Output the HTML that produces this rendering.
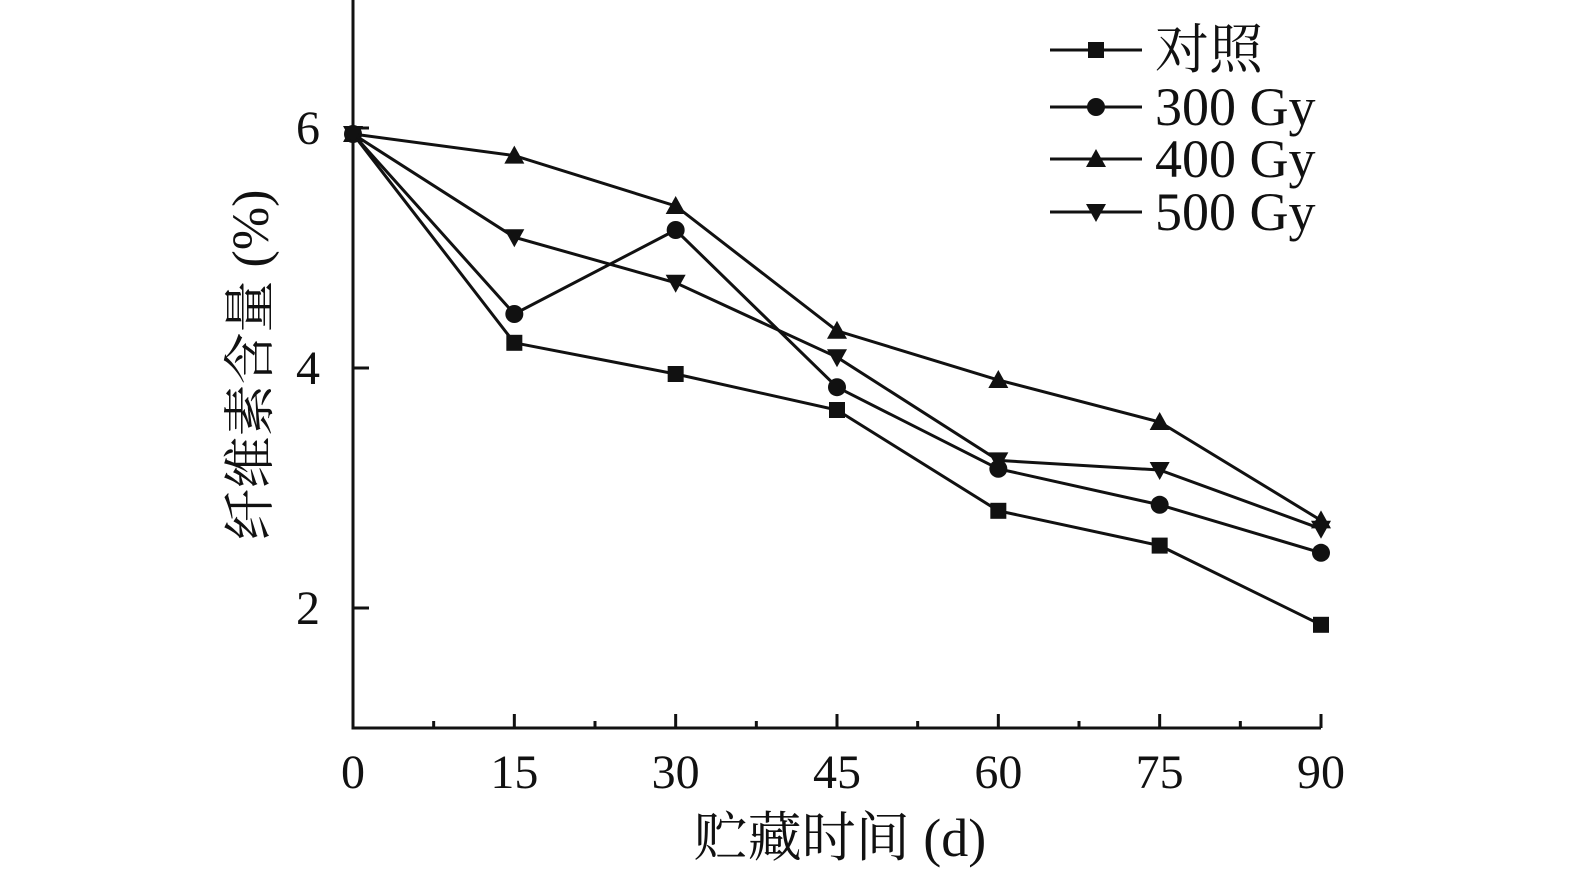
<!DOCTYPE html>
<html><head><meta charset="utf-8"><style>
body{margin:0;background:#fff;}
svg text{font-family:"Liberation Serif","Noto Serif CJK SC",serif;fill:#111;}
</style></head><body>
<svg id="chart" width="1575" height="874"></svg>
<script>
const categories=[0,15,30,45,60,75,90];
const xTicks=["0","15","30","45","60","75","90"];
const yTicks=[2,4,6];
const seriesNames=["对照","300 Gy","400 Gy","500 Gy"];
const control=[5.95,4.21,3.95,3.65,2.81,2.52,1.86];
const gy300=[5.95,4.45,5.15,3.84,3.16,2.86,2.46];
const gy400=[5.95,5.77,5.35,4.31,3.90,3.55,2.73];
const gy500=[5.95,5.09,4.71,4.09,3.23,3.15,2.66];
const series=[control,gy300,gy400,gy500];
const markers=["square","circle","up","down"];
const NS="http://www.w3.org/2000/svg";
const svg=document.getElementById('chart');
const X0=353,X1=1321,YB=728;
const xs=v=>X0+(v/90)*(X1-X0);
const ys=v=>128+(6-v)*120;
function el(t,a,p){const e=document.createElementNS(NS,t);for(const k in a)e.setAttribute(k,a[k]);(p||svg).appendChild(e);return e;}
let ax=el('path',{d:`M${X0} 0 V${YB} H${X1}`,stroke:'#111','stroke-width':3,fill:'none'});


categories.forEach((c,i)=>{
  const t=el('line',{x1:xs(c),x2:xs(c),y1:YB,y2:YB-14,stroke:'#111','stroke-width':3});
  
  
  if(i<categories.length-1){const m=el('line',{x1:xs(c+7.5),x2:xs(c+7.5),y1:YB,y2:YB-7,stroke:'#111','stroke-width':3});
  
  }
  const l=el('text',{x:xs(c),y:788,'font-size':48,'text-anchor':'middle'});l.textContent=xTicks[i];
  
  
});
yTicks.forEach(v=>{
  const t=el('line',{x1:X0,x2:X0+16,y1:ys(v),y2:ys(v),stroke:'#111','stroke-width':3});
  
  
  const l=el('text',{x:320,y:ys(v)+16,'font-size':48,'text-anchor':'end'});l.textContent=v;
  
  
});
let xt=el('text',{x:840,y:856,'font-size':54,'text-anchor':'middle'});xt.textContent='贮藏时间 (d)';


let yt=el('text',{x:0,y:0,'font-size':52,'text-anchor':'middle',transform:'translate(268,365) rotate(-90)'});yt.textContent='纤维素含量 (%)';


function marker(type,x,y,g){
  let m;
  if(type==='square')m=el('rect',{x:x-8,y:y-8,width:16,height:16,fill:'#111'},g);
  else if(type==='circle')m=el('circle',{cx:x,cy:y,r:9,fill:'#111'},g);
  else if(type==='up')m=el('polygon',{points:`${x},${y-10} ${x-10},${y+8} ${x+10},${y+8}`,fill:'#111'},g);
  else m=el('polygon',{points:`${x},${y+10} ${x-10},${y-8} ${x+10},${y-8}`,fill:'#111'},g);
  
  
}
series.forEach((s,si)=>{
  const g=el('g',{});
  
  
  el('polyline',{points:s.map((v,i)=>xs(categories[i])+','+ys(v)).join(' '),fill:'none',stroke:'#111','stroke-width':3},g);
  s.forEach((v,i)=>marker(markers[si],xs(categories[i]),ys(v),g));
  const ly=[50,107,159,212][si];
  const lg=el('g',{});
  
  
  el('line',{x1:1050,x2:1142,y1:ly,y2:ly,stroke:'#111','stroke-width':3},lg);
  marker(markers[si],1096,ly,lg);
  const t=el('text',{x:1155,y:ly+18,'font-size':54},lg);t.textContent=seriesNames[si];
});
</script>
</body></html>
